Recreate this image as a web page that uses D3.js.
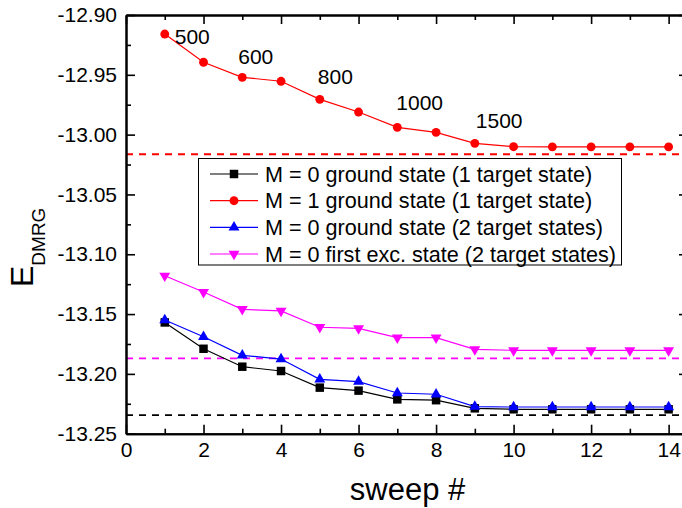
<!DOCTYPE html>
<html>
<head>
<meta charset="utf-8">
<script src="https://cdn.jsdelivr.net/npm/d3@7"></script>
<style>
  body { margin: 0; background: #fff; }
  svg text { font-family: "Liberation Sans", Arial, Helvetica, sans-serif; fill: #000; }
</style>
</head>
<body>
<svg id="chart" width="682" height="508"></svg>
<script>
// Sweep numbers
const sweeps = [1, 2, 3, 4, 5, 6, 7, 8, 9, 10, 11, 12, 13, 14];

// DMRG energies per sweep
const m0Ground1 = [-13.157, -13.179, -13.194, -13.1976, -13.2115, -13.214, -13.2213, -13.222, -13.2288, -13.2296, -13.2296, -13.2296, -13.2296, -13.2296];
const m1Ground1 = [-12.9159, -12.9395, -12.9521, -12.9554, -12.9705, -12.9811, -12.9939, -12.9981, -13.0073, -13.0101, -13.0102, -13.0102, -13.0102, -13.0102];
const m0Ground2 = [-13.155, -13.169, -13.1845, -13.1876, -13.2046, -13.2065, -13.216, -13.217, -13.2274, -13.2277, -13.2277, -13.2277, -13.2277, -13.2277];
const m0Excited2 = [-13.118, -13.1316, -13.146, -13.1474, -13.161, -13.162, -13.1697, -13.1697, -13.1795, -13.1803, -13.1803, -13.1803, -13.1803, -13.1803];

// Extrapolated reference energies (dashed lines)
const refEnergies = [-13.0164, -13.187, -13.2344];
const refColors = ["#ff0000", "#ff00ff", "#000000"];

// Kept-state numbers written along the M = 1 curve
const keptStates = ["500", "600", "800", "1000", "1500"];
const keptAtSweep = [1, 3, 5, 7, 9];

const seriesNames = [
  "M = 0 ground state (1 target state)",
  "M = 1 ground state (1 target state)",
  "M = 0 ground state (2 target states)",
  "M = 0 first exc. state (2 target states)"
];
const seriesColors = ["#000000", "#ff0000", "#0000ff", "#ff00ff"];
const seriesSymbols = ["square", "circle", "triangleUp", "triangleDown"];
const seriesValues = [m0Ground1, m1Ground1, m0Ground2, m0Excited2];

const xTicks = [0, 2, 4, 6, 8, 10, 12, 14];
const yTicks = [-12.90, -12.95, -13.00, -13.05, -13.10, -13.15, -13.20, -13.25];

const svg = d3.select("#chart");
const plotL = 126, plotR = 688, plotT = 15, plotB = 433.7;

const x = d3.scaleLinear().domain([0, 14.5]).range([plotL, plotR]);
const y = d3.scaleLinear().domain([-13.25, -12.90]).range([plotB, plotT]);

// Reference lines
svg.append("g").selectAll("line").data(refEnergies).join("line")
  .attr("x1", plotL).attr("x2", plotR)
  .attr("y1", d => y(d)).attr("y2", d => y(d))
  .attr("stroke", (d, i) => refColors[i])
  .attr("stroke-width", 1.8)
  .attr("stroke-dasharray", "7,6");

// Axes: major ticks inward, minor ticks between them
const xMinor = [1, 3, 5, 7, 9, 11, 13];
const yMinor = [-12.925, -12.975, -13.025, -13.075, -13.125, -13.175, -13.225];

function styleAxis(g) {
  g.select(".domain").attr("stroke", "#000").attr("stroke-width", 2);
  g.selectAll(".tick line").attr("stroke", "#000").attr("stroke-width", 1.6);
  g.selectAll(".tick text").attr("font-size", 21).attr("font-family", "'Liberation Sans', Arial, sans-serif");
}

const gxb = svg.append("g").attr("transform", `translate(0,${plotB})`)
  .call(d3.axisBottom(x).tickValues(xTicks).tickFormat(d3.format("d")).tickSizeInner(-9).tickSizeOuter(0).tickPadding(8));
styleAxis(gxb);
const gxbm = svg.append("g").attr("transform", `translate(0,${plotB})`)
  .call(d3.axisBottom(x).tickValues(xMinor).tickFormat("").tickSizeInner(-5).tickSizeOuter(0));
styleAxis(gxbm);

const gxt = svg.append("g").attr("transform", `translate(0,${plotT})`)
  .call(d3.axisTop(x).tickValues(xTicks).tickFormat("").tickSizeInner(-9).tickSizeOuter(0));
styleAxis(gxt);
const gxtm = svg.append("g").attr("transform", `translate(0,${plotT})`)
  .call(d3.axisTop(x).tickValues(xMinor).tickFormat("").tickSizeInner(-5).tickSizeOuter(0));
styleAxis(gxtm);

const gyl = svg.append("g").attr("transform", `translate(${plotL},0)`)
  .call(d3.axisLeft(y).tickValues(yTicks).tickFormat(d => d3.format(".2f")(d).replace("\u2212", "-")).tickSizeInner(-9).tickSizeOuter(0).tickPadding(9));
styleAxis(gyl);
const gylm = svg.append("g").attr("transform", `translate(${plotL},0)`)
  .call(d3.axisLeft(y).tickValues(yMinor).tickFormat("").tickSizeInner(-5).tickSizeOuter(0));
styleAxis(gylm);

const gyr = svg.append("g").attr("transform", `translate(${plotR},0)`)
  .call(d3.axisRight(y).tickValues(yTicks).tickFormat("").tickSizeInner(-9).tickSizeOuter(0));
styleAxis(gyr);

// Axis titles
svg.append("text")
  .attr("x", (plotL + 681) / 2 + 4).attr("y", 500)
  .attr("text-anchor", "middle").attr("font-size", 31)
  .text("sweep #");

const yTitle = svg.append("text")
  .attr("transform", `translate(33,287) rotate(-90)`)
  .attr("font-size", 32);
yTitle.append("tspan").text("E");
yTitle.append("tspan").attr("font-size", 19).attr("dy", 11.5).text("DMRG");

// Markers
const symbolTypes = {
  square: d3.symbol().type(d3.symbolSquare).size(72),
  circle: d3.symbol().type(d3.symbolCircle).size(62),
  triangleUp: d3.symbol().type(d3.symbolTriangle).size(52),
  triangleDown: d3.symbol().type(d3.symbolTriangle).size(52)
};

const line = d3.line().x(d => x(d[0])).y(d => y(d[1]));

seriesValues.forEach((vals, i) => {
  const pts = sweeps.map((s, k) => [s, vals[k]]);
  const g = svg.append("g");
  g.append("path").datum(pts)
    .attr("d", line).attr("fill", "none")
    .attr("stroke", seriesColors[i]).attr("stroke-width", 1.2);
  g.selectAll("path.pt").data(pts).join("path")
    .attr("class", "pt")
    .attr("d", symbolTypes[seriesSymbols[i]]())
    .attr("transform", d => `translate(${x(d[0])},${y(d[1])})` + (seriesSymbols[i] === "triangleDown" ? " rotate(180)" : ""))
    .attr("fill", seriesColors[i]);
});

// Kept-state labels
const labelOffsets = [[10, 10], [-4, -13], [-2, -15], [-1, -17], [1, -15]];
svg.append("g").selectAll("text").data(keptStates).join("text")
  .attr("x", (d, i) => x(keptAtSweep[i]) + labelOffsets[i][0])
  .attr("y", (d, i) => y(m1Ground1[keptAtSweep[i] - 1]) + labelOffsets[i][1])
  .attr("font-size", 21)
  .text(d => d);

// Legend
const legend = svg.append("g");
legend.append("rect")
  .attr("x", 198.5).attr("y", 158.5).attr("width", 423).attr("height", 106.5)
  .attr("fill", "#fff").attr("stroke", "#000").attr("stroke-width", 1);
const rowY = [174, 200.7, 227.3, 254];
seriesNames.forEach((name, i) => {
  const r = legend.append("g").attr("transform", `translate(0,${rowY[i]})`);
  r.append("line").attr("x1", 210).attr("x2", 258).attr("y1", 0).attr("y2", 0)
    .attr("stroke", seriesColors[i]).attr("stroke-width", 1.2);
  r.append("path").attr("d", symbolTypes[seriesSymbols[i]]())
    .attr("transform", `translate(234,0)` + (seriesSymbols[i] === "triangleDown" ? " rotate(180)" : ""))
    .attr("fill", seriesColors[i]);
  r.append("text").attr("x", 265).attr("y", 7.5).attr("font-size", 21.6).text(name);
});
</script>
</body>
</html>
